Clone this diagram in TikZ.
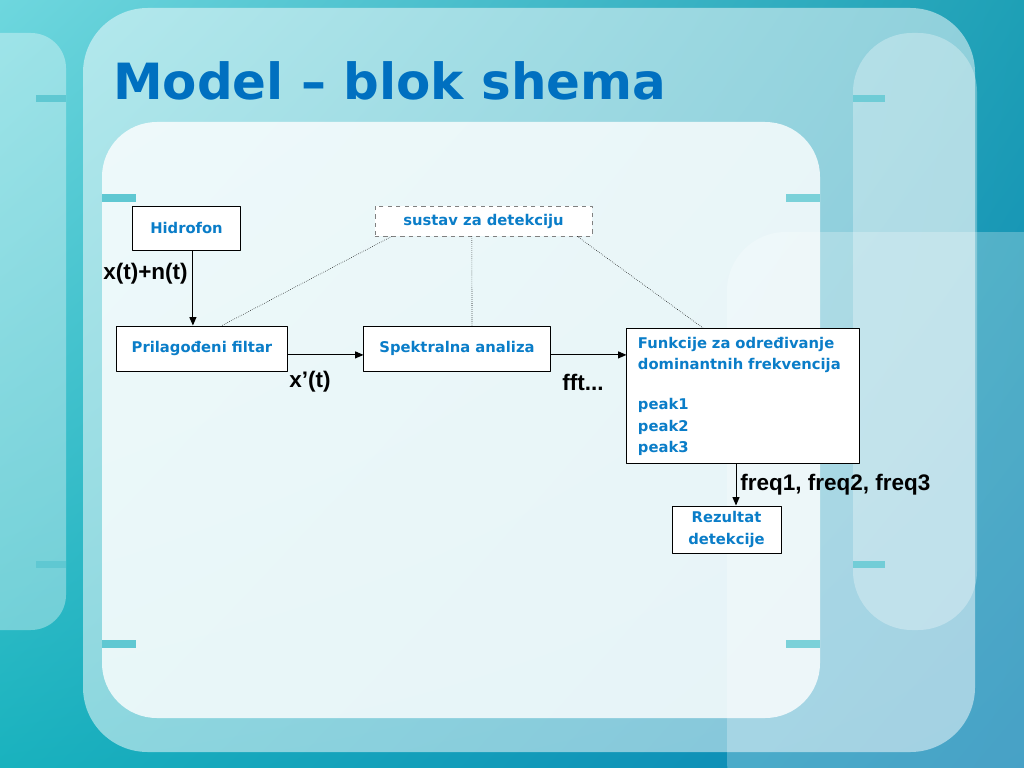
\documentclass[tikz,border=0pt]{standalone}
\usepackage{fontspec}
\setmainfont{DejaVu Sans}
\newfontfamily\arialfont{Liberation Sans}
\usetikzlibrary{arrows.meta,shadings}
\definecolor{titleblue}{RGB}{0,112,192}
\definecolor{boxblue}{RGB}{10,125,200}
\definecolor{tabteal}{RGB}{95,200,210}
\definecolor{bgul}{RGB}{110,215,222}
\definecolor{bgur}{RGB}{30,160,182}
\definecolor{bgll}{RGB}{25,178,190}
\definecolor{bglr}{RGB}{10,130,180}
\begin{document}
\begin{tikzpicture}[x=0.025cm, y=-0.025cm, line join=round, >={Triangle[length=6pt,width=5pt]}]
            \tikzset{block/.style={draw, line width=0.7pt, fill=white, font=\fontsize{10.5}{15}\selectfont\bfseries, text=boxblue, inner sep=0pt},
                     signal/.style={font=\arialfont\fontsize{16}{19}\selectfont\bfseries},
                     panel/.style={fill=white, draw=none},
                     tab/.style={fill=tabteal, draw=none}}
            \useasboundingbox (0,0) rectangle (1024,768);
            % background
            \shade[upper left=bgul, upper right=bgur, lower left=bgll, lower right=bglr] (0,0) rectangle (1024,768);
            \fill[panel, opacity=0.35, rounded corners=25pt] (-40,33) rectangle (66,630);
            \fill[panel, opacity=0.5, rounded corners=46pt] (83,8) rectangle (975,752);
            \fill[panel, opacity=0.3, rounded corners=42pt] (853,33) rectangle (977,630);
            \fill[panel, opacity=0.25, rounded corners=42pt] (727,232) rectangle (1080,820);
            \fill[panel, opacity=0.8, rounded corners=39pt] (102,122) rectangle (820,718);
            \fill[tab] (36,95) rectangle (66,102);
            \fill[tab] (36,561) rectangle (66,568);
            \fill[tab] (102,194) rectangle (136,202);
            \fill[tab] (102,640) rectangle (136,648);
            \fill[tab, opacity=0.8] (786,194) rectangle (820,202);
            \fill[tab, opacity=0.8] (786,640) rectangle (820,648);
            \fill[tab, opacity=0.8] (853,95) rectangle (885,102);
            \fill[tab, opacity=0.8] (853,561) rectangle (885,568);
            % title
            \node[anchor=base west, inner sep=0pt, text=titleblue, font=\fontsize{35.5}{40}\selectfont\bfseries] (title) at (113,100) {Model – blok shema};
            % blocks
            \node[block, minimum width=2.675cm, minimum height=1.1cm] (hidro) at (186.5,228) {Hidrofon};
            \node[block, draw=gray, dashed, line width=0.4pt, minimum width=5.425cm, minimum height=0.75cm] (sustav) at (483.5,221) {sustav za detekciju};
            \node[block, minimum width=4.25cm, minimum height=1.125cm] (filtar) at (202,348.5) {Prilagođeni filtar};
            \node[block, minimum width=4.65cm, minimum height=1.125cm] (spektar) at (457,348.5) {Spektralna analiza};
            \node[block, minimum width=5.8cm, minimum height=3.375cm, text width=5.25cm, align=left] (funkc) at (743,396) {Funkcije za određivanje\\dominantnih frekvencija\\[14pt]peak1\\peak2\\peak3};
            \node[block, minimum width=2.725cm, minimum height=1.175cm, align=center] (rezultat) at (726.5,529.5) {Rezultat\\detekcije};
            % signal flow
            \draw[->, line width=0.7pt] ([xshift=0.16cm]hidro.south) -- ([xshift=0.16cm]hidro.south |- filtar.north);
            \draw[->, line width=0.7pt] ([yshift=-0.16cm]filtar.east) -- ([yshift=-0.16cm]filtar.east -| spektar.west);
            \draw[->, line width=0.7pt] ([yshift=-0.16cm]spektar.east) -- ([yshift=-0.16cm]spektar.east -| funkc.west);
            \draw[->, line width=0.7pt] ([xshift=-0.175cm]funkc.south) -- ([xshift=-0.175cm]funkc.south |- rezultat.north);
            \node[signal] (xn) at (145.5,274) {x(t)+n(t)};
            \node[signal] (xp) at (310,382) {x’(t)};
            \node[signal] (fft) at (583,382) {fft...};
            \node[signal, anchor=west, inner sep=0pt] (freq) at (740,485) {freq1, freq2, freq3};
            % system bracket
            \draw[densely dotted, line width=0.4pt] ([xshift=-2.29cm]sustav.south) -- ([xshift=0.5cm]filtar.north);
            \draw[densely dotted, line width=0.4pt] ([xshift=-0.29cm]sustav.south) -- ([xshift=0.375cm]spektar.north);
            \draw[densely dotted, line width=0.4pt] ([xshift=2.34cm]sustav.south) -- ([xshift=-1cm]funkc.north);
        \end{tikzpicture}
\end{document}
